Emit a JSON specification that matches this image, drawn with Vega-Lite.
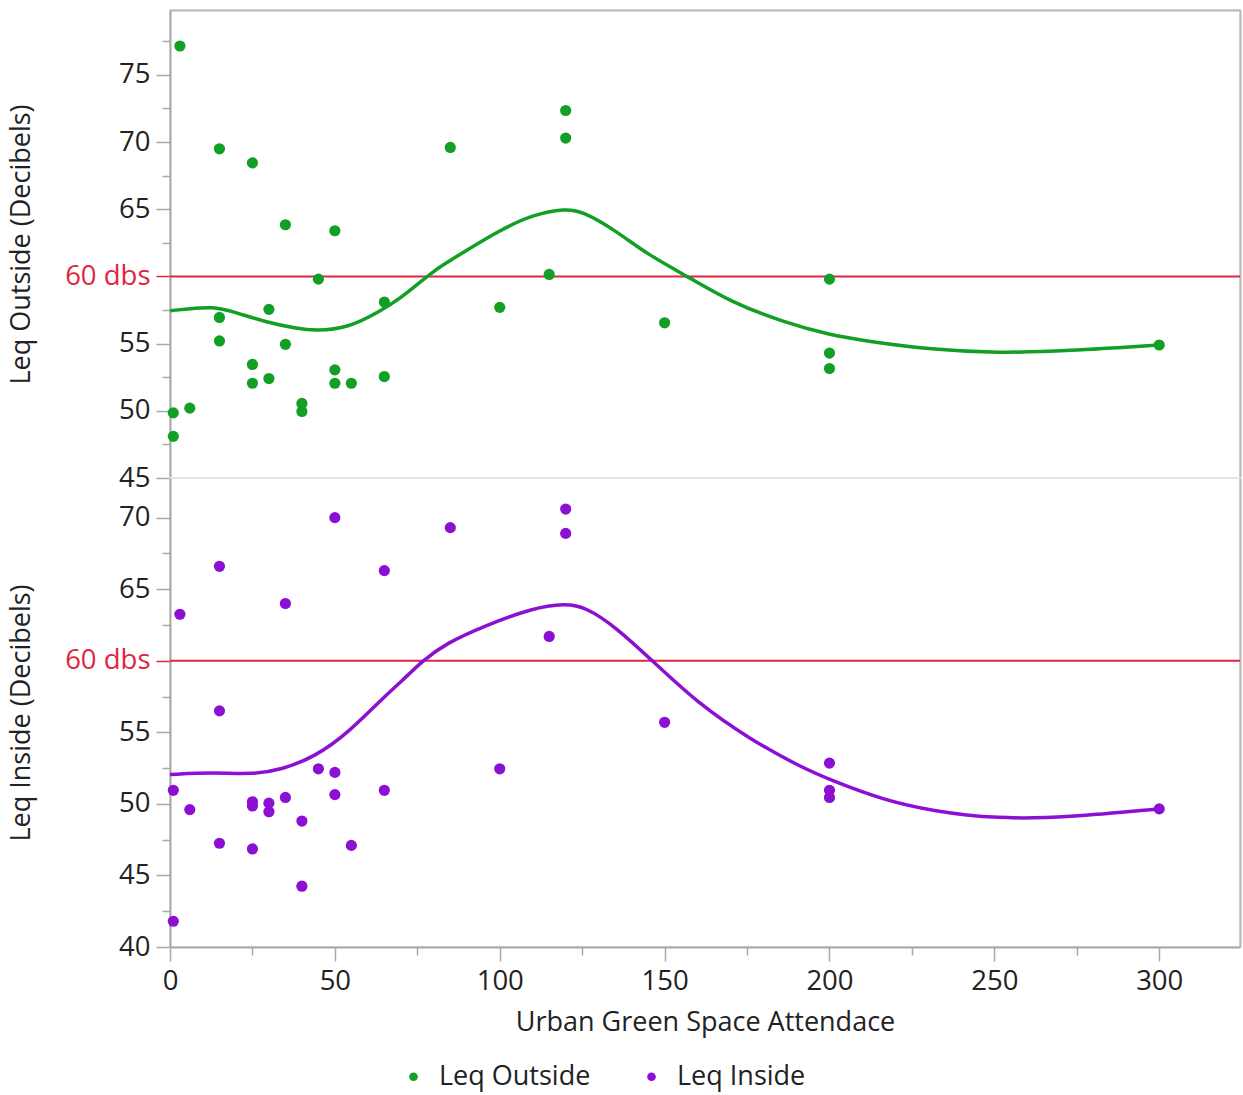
{
  "$schema": "https://vega.github.io/schema/vega-lite/v6.json",
  "padding": {"left": 6, "top": 9, "right": 1, "bottom": 2},
  "background": "white",
  "spacing": 0,
  "bounds": "flush",
  "config": {
    "font": "Open Sans",
    "view": {"stroke": "#e4e4e4", "strokeWidth": 2},
    "axis": {
      "labelFont": "Open Sans", "labelFontSize": 27.5, "labelColor": "#222",
      "titleFont": "Open Sans", "titleFontSize": 27, "titleFontWeight": "normal", "titleColor": "#222",
      "domainColor": "#a8a8a8", "domainWidth": 2, "tickColor": "#a8a8a8", "tickWidth": 1.5, "grid": false
    },
    "legend": {
      "orient": "none", "legendX": 230, "legendY": 1053, "direction": "horizontal", "title": null,
      "labelFont": "Open Sans", "labelFontSize": 27, "labelColor": "#222",
      "symbolType": "circle", "symbolSize": 75, "symbolStrokeWidth": 0,
      "columnPadding": 47, "labelOffset": 12
    }
  },
  "datasets": {
    "pts": [
      {"x": 3, "y": 77.15, "series": "Leq Outside"},
      {"x": 1, "y": 49.85, "series": "Leq Outside"},
      {"x": 1, "y": 48.1, "series": "Leq Outside"},
      {"x": 6, "y": 50.2, "series": "Leq Outside"},
      {"x": 15, "y": 69.5, "series": "Leq Outside"},
      {"x": 15, "y": 56.95, "series": "Leq Outside"},
      {"x": 15, "y": 55.2, "series": "Leq Outside"},
      {"x": 25, "y": 68.45, "series": "Leq Outside"},
      {"x": 25, "y": 53.45, "series": "Leq Outside"},
      {"x": 25, "y": 52.05, "series": "Leq Outside"},
      {"x": 30, "y": 57.55, "series": "Leq Outside"},
      {"x": 30, "y": 52.4, "series": "Leq Outside"},
      {"x": 35, "y": 63.85, "series": "Leq Outside"},
      {"x": 35, "y": 54.95, "series": "Leq Outside"},
      {"x": 40, "y": 50.55, "series": "Leq Outside"},
      {"x": 40, "y": 49.95, "series": "Leq Outside"},
      {"x": 45, "y": 59.8, "series": "Leq Outside"},
      {"x": 50, "y": 63.4, "series": "Leq Outside"},
      {"x": 50, "y": 53.05, "series": "Leq Outside"},
      {"x": 50, "y": 52.05, "series": "Leq Outside"},
      {"x": 55, "y": 52.05, "series": "Leq Outside"},
      {"x": 65, "y": 58.1, "series": "Leq Outside"},
      {"x": 65, "y": 52.55, "series": "Leq Outside"},
      {"x": 85, "y": 69.6, "series": "Leq Outside"},
      {"x": 100, "y": 57.7, "series": "Leq Outside"},
      {"x": 115, "y": 60.15, "series": "Leq Outside"},
      {"x": 120, "y": 72.35, "series": "Leq Outside"},
      {"x": 120, "y": 70.3, "series": "Leq Outside"},
      {"x": 150, "y": 56.55, "series": "Leq Outside"},
      {"x": 200, "y": 59.8, "series": "Leq Outside"},
      {"x": 200, "y": 54.3, "series": "Leq Outside"},
      {"x": 200, "y": 53.15, "series": "Leq Outside"},
      {"x": 300, "y": 54.9, "series": "Leq Outside"},
      {"x": 3, "y": 63.25, "series": "Leq Inside"},
      {"x": 1, "y": 50.95, "series": "Leq Inside"},
      {"x": 1, "y": 41.8, "series": "Leq Inside"},
      {"x": 6, "y": 49.6, "series": "Leq Inside"},
      {"x": 15, "y": 66.6, "series": "Leq Inside"},
      {"x": 15, "y": 56.5, "series": "Leq Inside"},
      {"x": 15, "y": 47.25, "series": "Leq Inside"},
      {"x": 25, "y": 50.15, "series": "Leq Inside"},
      {"x": 25, "y": 49.85, "series": "Leq Inside"},
      {"x": 25, "y": 46.85, "series": "Leq Inside"},
      {"x": 30, "y": 50.05, "series": "Leq Inside"},
      {"x": 30, "y": 49.45, "series": "Leq Inside"},
      {"x": 35, "y": 64.0, "series": "Leq Inside"},
      {"x": 35, "y": 50.45, "series": "Leq Inside"},
      {"x": 40, "y": 48.8, "series": "Leq Inside"},
      {"x": 40, "y": 44.25, "series": "Leq Inside"},
      {"x": 45, "y": 52.45, "series": "Leq Inside"},
      {"x": 50, "y": 70.0, "series": "Leq Inside"},
      {"x": 50, "y": 52.2, "series": "Leq Inside"},
      {"x": 50, "y": 50.65, "series": "Leq Inside"},
      {"x": 55, "y": 47.1, "series": "Leq Inside"},
      {"x": 65, "y": 66.3, "series": "Leq Inside"},
      {"x": 65, "y": 50.95, "series": "Leq Inside"},
      {"x": 85, "y": 69.3, "series": "Leq Inside"},
      {"x": 100, "y": 52.45, "series": "Leq Inside"},
      {"x": 115, "y": 61.7, "series": "Leq Inside"},
      {"x": 120, "y": 70.6, "series": "Leq Inside"},
      {"x": 120, "y": 68.9, "series": "Leq Inside"},
      {"x": 150, "y": 55.7, "series": "Leq Inside"},
      {"x": 200, "y": 52.85, "series": "Leq Inside"},
      {"x": 200, "y": 50.95, "series": "Leq Inside"},
      {"x": 200, "y": 50.45, "series": "Leq Inside"},
      {"x": 300, "y": 49.65, "series": "Leq Inside"}
    ],
    "fit": [
      {"x": 0, "y": 57.45, "series": "Leq Outside"},
      {"x": 6, "y": 57.6, "series": "Leq Outside"},
      {"x": 13, "y": 57.75, "series": "Leq Outside"},
      {"x": 19, "y": 57.4, "series": "Leq Outside"},
      {"x": 29, "y": 56.6, "series": "Leq Outside"},
      {"x": 39, "y": 56.1, "series": "Leq Outside"},
      {"x": 44, "y": 55.95, "series": "Leq Outside"},
      {"x": 54, "y": 56.15, "series": "Leq Outside"},
      {"x": 64, "y": 57.45, "series": "Leq Outside"},
      {"x": 70, "y": 58.4, "series": "Leq Outside"},
      {"x": 76, "y": 59.6, "series": "Leq Outside"},
      {"x": 80, "y": 60.4, "series": "Leq Outside"},
      {"x": 85, "y": 61.2, "series": "Leq Outside"},
      {"x": 100, "y": 63.45, "series": "Leq Outside"},
      {"x": 110, "y": 64.6, "series": "Leq Outside"},
      {"x": 120, "y": 65.05, "series": "Leq Outside"},
      {"x": 125, "y": 64.85, "series": "Leq Outside"},
      {"x": 135, "y": 63.45, "series": "Leq Outside"},
      {"x": 145, "y": 61.6, "series": "Leq Outside"},
      {"x": 157, "y": 60.0, "series": "Leq Outside"},
      {"x": 170, "y": 58.1, "series": "Leq Outside"},
      {"x": 186, "y": 56.6, "series": "Leq Outside"},
      {"x": 200, "y": 55.65, "series": "Leq Outside"},
      {"x": 211, "y": 55.2, "series": "Leq Outside"},
      {"x": 231, "y": 54.55, "series": "Leq Outside"},
      {"x": 251, "y": 54.3, "series": "Leq Outside"},
      {"x": 272, "y": 54.45, "series": "Leq Outside"},
      {"x": 300, "y": 54.9, "series": "Leq Outside"},
      {"x": 0, "y": 52.05, "series": "Leq Inside"},
      {"x": 13, "y": 52.2, "series": "Leq Inside"},
      {"x": 25, "y": 52.05, "series": "Leq Inside"},
      {"x": 34, "y": 52.4, "series": "Leq Inside"},
      {"x": 44, "y": 53.3, "series": "Leq Inside"},
      {"x": 54, "y": 54.95, "series": "Leq Inside"},
      {"x": 65, "y": 57.5, "series": "Leq Inside"},
      {"x": 70, "y": 58.5, "series": "Leq Inside"},
      {"x": 76.5, "y": 60.0, "series": "Leq Inside"},
      {"x": 84, "y": 61.25, "series": "Leq Inside"},
      {"x": 95, "y": 62.4, "series": "Leq Inside"},
      {"x": 110, "y": 63.7, "series": "Leq Inside"},
      {"x": 120, "y": 64.0, "series": "Leq Inside"},
      {"x": 126, "y": 63.75, "series": "Leq Inside"},
      {"x": 135, "y": 62.4, "series": "Leq Inside"},
      {"x": 147, "y": 59.85, "series": "Leq Inside"},
      {"x": 160, "y": 57.05, "series": "Leq Inside"},
      {"x": 176, "y": 54.5, "series": "Leq Inside"},
      {"x": 191, "y": 52.6, "series": "Leq Inside"},
      {"x": 201, "y": 51.6, "series": "Leq Inside"},
      {"x": 216, "y": 50.3, "series": "Leq Inside"},
      {"x": 231, "y": 49.5, "series": "Leq Inside"},
      {"x": 251, "y": 48.95, "series": "Leq Inside"},
      {"x": 272, "y": 49.05, "series": "Leq Inside"},
      {"x": 300, "y": 49.65, "series": "Leq Inside"}
    ],
    "ref": [{"level": 60}]
  },
  "resolve": {"scale": {"x": "independent", "y": "independent", "color": "shared"}, "legend": {"color": "shared"}},
  "vconcat": [
    {
      "width": 1070,
      "height": 468,
      "resolve": {"axis": {"y": "independent"}},
      "layer": [
        {
          "data": {"name": "ref"},
          "mark": {"type": "rule", "color": "#e0253f", "strokeWidth": 2},
          "encoding": {
            "y": {
              "field": "level", "type": "quantitative",
              "scale": {"domain": [45, 79.83], "nice": false, "zero": false},
              "axis": {
                "title": "Leq Outside (Decibels)",
                "values": [45, 47.5, 50, 52.5, 55, 57.5, 60, 62.5, 65, 67.5, 70, 72.5, 75, 77.5],
                "labelExpr": "datum.value % 5 == 0 ? (datum.value == 60 ? '60 dbs' : datum.label) : ''",
                "labelColor": {"condition": {"test": "datum.value == 60", "value": "#e0253f"}, "value": "#222"},
                "tickColor": {"condition": {"test": "datum.value == 60", "value": "#e0253f"}, "value": "#a8a8a8"},
                "tickSize": {"condition": {"test": "datum.value % 5 == 0", "value": 14}, "value": 8},
                "labelPadding": 6, "titlePadding": 29,
                "labelOverlap": false, "labelBound": false, "labelFlush": false
              }
            }
          }
        },
        {
          "data": {"name": "fit"},
          "transform": [{"filter": "datum.series == 'Leq Outside'"}],
          "mark": {"type": "line", "color": "#129f26", "strokeWidth": 3.5, "interpolate": "basis"},
          "encoding": {
            "x": {
              "field": "x", "type": "quantitative",
              "scale": {"domain": [0, 324.5], "nice": false, "zero": false},
              "axis": {"orient": "top", "labels": false, "ticks": false, "title": null, "domainColor": "#b8b8b8", "domainWidth": 2}
            },
            "y": {
              "field": "y", "type": "quantitative",
              "axis": {"orient": "right", "labels": false, "ticks": false, "title": null, "domainColor": "#b8b8b8", "domainWidth": 2}
            }
          }
        },
        {
          "data": {"name": "pts"},
          "transform": [{"filter": "datum.series == 'Leq Outside'"}],
          "mark": {"type": "circle", "size": 125, "opacity": 1},
          "encoding": {
            "x": {
              "field": "x", "type": "quantitative",
              "axis": {"orient": "top", "labels": false, "ticks": false, "title": null, "domainColor": "#b8b8b8", "domainWidth": 2}
            },
            "y": {"field": "y", "type": "quantitative", "axis": null},
            "color": {
              "field": "series", "type": "nominal",
              "scale": {"domain": ["Leq Outside", "Leq Inside"], "range": ["#129f26", "#8c10d4"]}
            }
          }
        }
      ]
    },
    {
      "width": 1070,
      "height": 469,
      "resolve": {"axis": {"y": "independent"}},
      "layer": [
        {
          "data": {"name": "ref"},
          "mark": {"type": "rule", "color": "#e0253f", "strokeWidth": 2},
          "encoding": {
            "y": {
              "field": "level", "type": "quantitative",
              "scale": {"domain": [40, 72.77], "nice": false, "zero": false},
              "axis": {
                "title": "Leq Inside (Decibels)",
                "values": [40, 42.5, 45, 47.5, 50, 52.5, 55, 57.5, 60, 62.5, 65, 67.5, 70],
                "labelExpr": "datum.value % 5 == 0 ? (datum.value == 60 ? '60 dbs' : datum.label) : ''",
                "labelColor": {"condition": {"test": "datum.value == 60", "value": "#e0253f"}, "value": "#222"},
                "tickColor": {"condition": {"test": "datum.value == 60", "value": "#e0253f"}, "value": "#a8a8a8"},
                "tickSize": {"condition": {"test": "datum.value % 5 == 0", "value": 14}, "value": 8},
                "labelPadding": 6, "titlePadding": 29,
                "labelOverlap": false, "labelBound": false, "labelFlush": false
              }
            }
          }
        },
        {
          "data": {"name": "fit"},
          "transform": [{"filter": "datum.series == 'Leq Inside'"}],
          "mark": {"type": "line", "color": "#8c10d4", "strokeWidth": 3.5, "interpolate": "basis"},
          "encoding": {
            "x": {
              "field": "x", "type": "quantitative",
              "scale": {"domain": [0, 324.5], "nice": false, "zero": false},
              "axis": {
                "title": "Urban Green Space Attendace",
                "values": [0, 25, 50, 75, 100, 125, 150, 175, 200, 225, 250, 275, 300],
                "labelExpr": "datum.value % 50 == 0 ? datum.label : ''",
                "tickSize": {"condition": {"test": "datum.value % 50 == 0", "value": 14}, "value": 8},
                "labelPadding": 6, "titlePadding": 15,
                "labelOverlap": false, "labelBound": false, "labelFlush": false
              }
            },
            "y": {
              "field": "y", "type": "quantitative",
              "axis": {"orient": "right", "labels": false, "ticks": false, "title": null, "domainColor": "#b8b8b8", "domainWidth": 2}
            }
          }
        },
        {
          "data": {"name": "pts"},
          "transform": [{"filter": "datum.series == 'Leq Inside'"}],
          "mark": {"type": "circle", "size": 125, "opacity": 1},
          "encoding": {
            "x": {"field": "x", "type": "quantitative"},
            "y": {"field": "y", "type": "quantitative", "axis": null},
            "color": {
              "field": "series", "type": "nominal",
              "scale": {"domain": ["Leq Outside", "Leq Inside"], "range": ["#129f26", "#8c10d4"]}
            }
          }
        }
      ]
    }
  ]
}
